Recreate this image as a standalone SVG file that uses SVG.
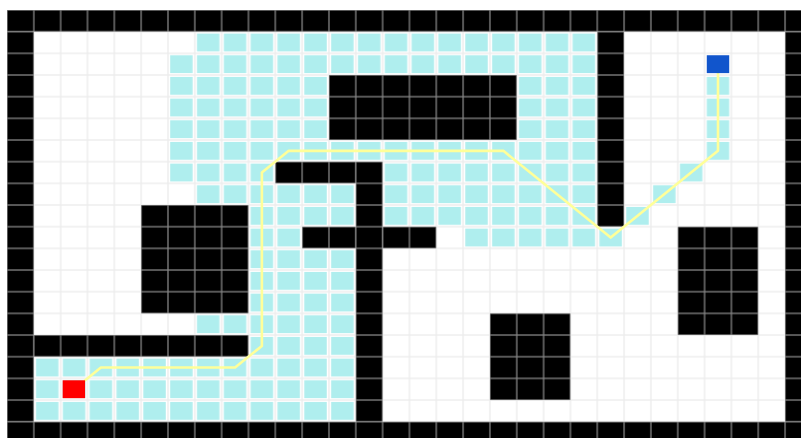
<svg xmlns="http://www.w3.org/2000/svg" width="801" height="438" viewBox="0 0 801 438">
  <defs>
    <pattern id="wh" patternUnits="userSpaceOnUse" x="7" y="10" width="26.83" height="21.67">
      <rect width="26.83" height="21.67" fill="#ffffff" stroke="#ebebeb" stroke-width="1.2"/>
    </pattern>
    <pattern id="cy" patternUnits="userSpaceOnUse" x="7" y="10" width="26.83" height="21.67">
      <rect width="26.83" height="21.67" fill="#ffffff" stroke="#ebebeb" stroke-width="1.2"/>
      <rect x="2.2" y="1.9" width="22.43" height="17.87" fill="#afeeee"/>
    </pattern>
    <pattern id="bk" patternUnits="userSpaceOnUse" x="7" y="10" width="26.83" height="21.67">
      <rect width="26.83" height="21.67" fill="#000000" stroke="#858585" stroke-width="1.3"/>
    </pattern>
  </defs>
  <style>
    .v { fill: url(#cy); }
    .o { fill: url(#bk); }
    .path { fill: none; stroke: #ffff99; stroke-width: 2.6; stroke-linejoin: round; stroke-linecap: round; }
  </style>
  <rect width="801" height="438" fill="#ffffff"/>
  <g id="grid">
    <rect x="7" y="10" width="805" height="434" fill="url(#wh)"/>
  </g>
  <g id="visited">
    <rect class="v" x="194.81" y="31.67" width="402.45" height="21.67"/>
    <rect class="v" x="167.98" y="53.34" width="429.28" height="21.67"/>
    <rect class="v" x="167.98" y="75.01" width="160.98" height="65.01"/>
    <rect class="v" x="516.77" y="75.01" width="80.49" height="65.01"/>
    <rect class="v" x="704.58" y="75.01" width="26.83" height="86.68"/>
    <rect class="v" x="167.98" y="140.02" width="429.28" height="21.67"/>
    <rect class="v" x="167.98" y="161.69" width="107.32" height="21.67"/>
    <rect class="v" x="382.62" y="161.69" width="214.64" height="21.67"/>
    <rect class="v" x="677.75" y="161.69" width="26.83" height="21.67"/>
    <rect class="v" x="194.81" y="183.36" width="160.98" height="21.67"/>
    <rect class="v" x="382.62" y="183.36" width="214.64" height="21.67"/>
    <rect class="v" x="650.92" y="183.36" width="26.83" height="21.67"/>
    <rect class="v" x="248.47" y="205.03" width="107.32" height="21.67"/>
    <rect class="v" x="382.62" y="205.03" width="214.64" height="21.67"/>
    <rect class="v" x="624.09" y="205.03" width="26.83" height="21.67"/>
    <rect class="v" x="248.47" y="226.7" width="53.66" height="21.67"/>
    <rect class="v" x="462.71" y="226.7" width="160.98" height="21.67"/>
    <rect class="v" x="248.47" y="248.37" width="107.32" height="65.01"/>
    <rect class="v" x="194.81" y="313.38" width="160.98" height="21.67"/>
    <rect class="v" x="248.47" y="335.05" width="107.32" height="21.67"/>
    <rect class="v" x="33.83" y="356.72" width="321.96" height="65.01"/>
  </g>
  <g id="obstacles">
    <rect class="o" x="7" y="10" width="805" height="21.67"/>
    <rect class="o" x="7" y="421.73" width="805" height="21.67"/>
    <rect class="o" x="7" y="31.67" width="26.83" height="390.06"/>
    <rect class="o" x="785.07" y="31.67" width="26.83" height="390.06"/>
    <rect class="o" x="328.96" y="75.01" width="187.81" height="65.01"/>
    <rect class="o" x="597.26" y="31.67" width="26.83" height="195.03"/>
    <rect class="o" x="275.3" y="161.69" width="80.49" height="21.67"/>
    <rect class="o" x="355.79" y="161.69" width="26.83" height="260.04"/>
    <rect class="o" x="302.13" y="226.7" width="53.66" height="21.67"/>
    <rect class="o" x="382.62" y="226.7" width="53.66" height="21.67"/>
    <rect class="o" x="141.15" y="205.03" width="107.32" height="108.35"/>
    <rect class="o" x="33.83" y="335.05" width="214.64" height="21.67"/>
    <rect class="o" x="489.94" y="313.38" width="80.49" height="86.68"/>
    <rect class="o" x="677.75" y="226.7" width="80.49" height="108.35"/>
  </g>
  <g id="connectors">
    <polyline class="path" points="74.07,389.23 100.9,367.56 235.06,367.56 261.89,345.89 261.89,172.53 288.72,150.86 503.36,150.86 610.68,237.54 718,150.86 718,64.18"/>
  </g>
  <g id="start">
    <rect x="62.66" y="380.29" width="22.43" height="17.87" fill="#ff0000"/>
  </g>
  <g id="goal">
    <rect x="706.78" y="55.24" width="22.43" height="17.87" fill="#1155cc"/>
  </g>
</svg>
